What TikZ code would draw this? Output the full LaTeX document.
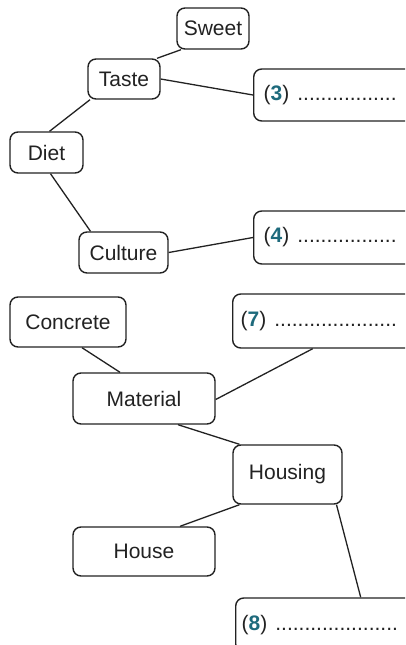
\documentclass[tikz,border=0pt]{standalone}
\usepackage{fontspec}
\setmainfont{Liberation Sans}
\definecolor{numteal}{HTML}{1E6A7C}
\definecolor{ink}{HTML}{222222}
\begin{document}
\begin{tikzpicture}[x=1pt,y=-1pt,
  box/.style={draw=ink, line width=1.4pt, rounded corners=8pt, inner sep=0pt,
    font=\fontsize{21}{25}\selectfont, text=ink},
  blank/.style={box, anchor=west},
  link/.style={draw=ink, line width=1.3pt}]
\useasboundingbox (0,0) rectangle (405,645);
\clip (0,0) rectangle (405,645);
\fill[white] (0,0) rectangle (405,645);
\newcommand{\blk}[4]{\makebox[#1pt][l]{\hspace*{#2pt}(\textbf{\color{numteal}#3})\hspace{8pt}#4}}
% top tree
\node[box, minimum width=72pt, minimum height=41pt] (sweet) at (213,28.5) {Sweet};
\node[box, minimum width=72pt, minimum height=40pt] (taste) at (124,79) {Taste};
\node[box, minimum width=73pt, minimum height=41pt] (diet) at (46.5,152.5) {Diet};
\node[box, minimum width=89pt, minimum height=41pt] (culture) at (123.5,252.5) {Culture};
\node[blank, minimum width=170pt, minimum height=52pt] (b3) at (253,95) {\blk{170}{10}{3}{.................}};
\node[blank, minimum width=170pt, minimum height=53pt] (b4) at (253,237.5) {\blk{170}{10}{4}{.................}};
% bottom tree
\node[box, minimum width=116pt, minimum height=50pt] (concrete) at (68,322) {Concrete};
\node[blank, minimum width=190pt, minimum height=54pt] (b7) at (232,321) {\blk{190}{8}{7}{.....................}};
\node[box, minimum width=142pt, minimum height=51pt] (material) at (144,398.5) {Material};
\node[box, minimum width=109pt, minimum height=59pt] (housing) at (287.5,474.5) {Housing};
\node[box, minimum width=142pt, minimum height=49pt] (house) at (144,551.5) {House};
\node[blank, minimum width=190pt, minimum height=54pt] (b8) at (235,625) {\blk{190}{6}{8}{.....................}};
% connectors
\draw[link] ([xshift=-32pt]sweet.south) -- ([xshift=33pt]taste.north);
\draw[link] (taste.east) -- (b3.west);
\draw[link] ([xshift=-34pt]taste.south) -- ([xshift=3pt]diet.north);
\draw[link] ([xshift=4pt]diet.south) -- ([xshift=-33pt]culture.north);
\draw[link] (culture.east) -- (b4.west);
\draw[link] ([xshift=14pt]concrete.south) -- ([xshift=-24pt]material.north);
\draw[link] ([xshift=-15pt]b7.south) -- ([yshift=-1pt]material.east);
\draw[link] ([xshift=34pt]material.south) -- ([xshift=-48pt]housing.north);
\draw[link] ([xshift=-48pt]housing.south) -- ([xshift=36pt]house.north);
\draw[link] ([xshift=49pt]housing.south) -- ([xshift=30pt]b8.north);
\end{tikzpicture}
\end{document}
